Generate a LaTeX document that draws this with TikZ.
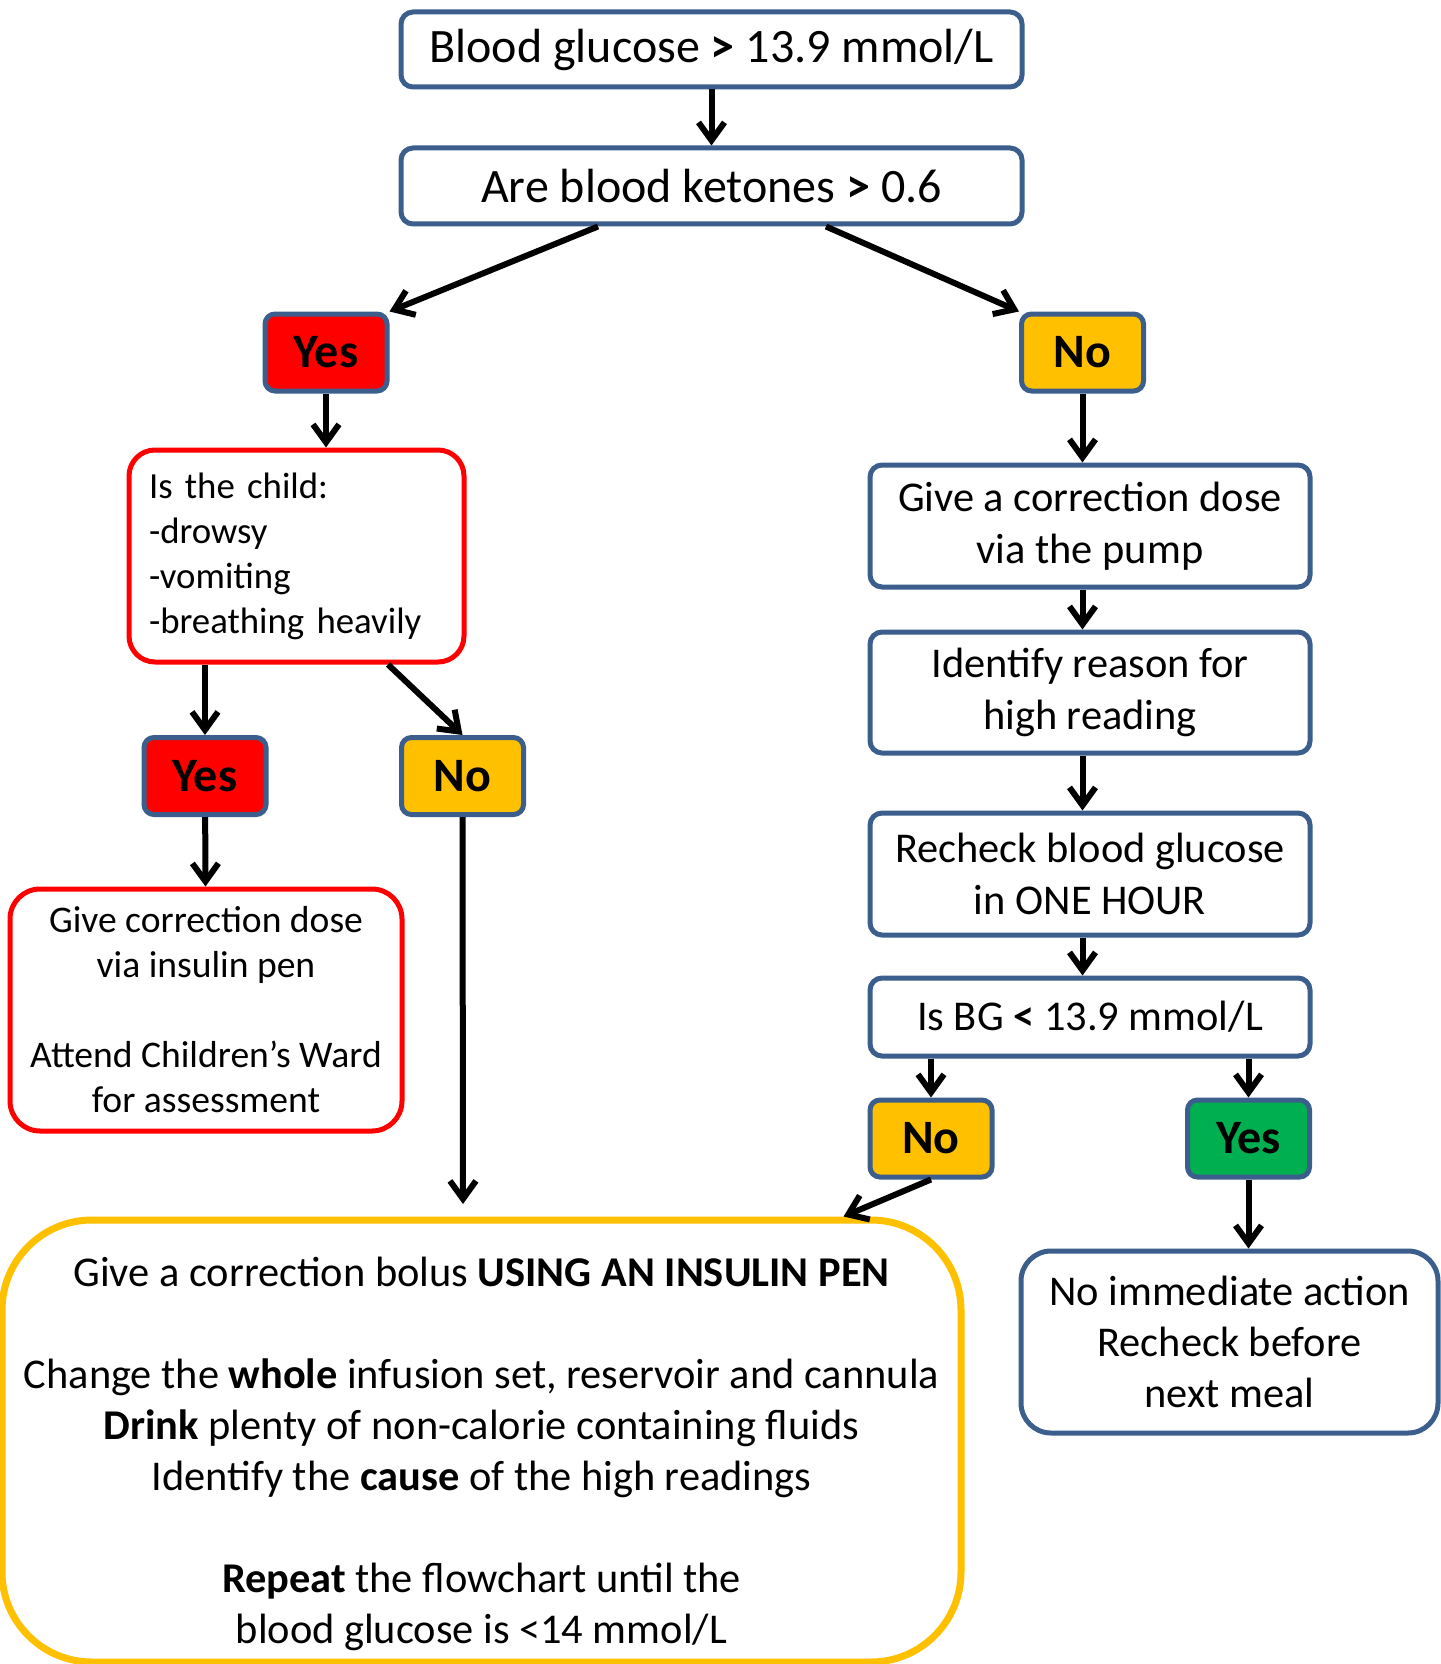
\documentclass[tikz,border=0pt]{standalone}
\usepackage{fontspec}
\setmainfont{Carlito}
\usetikzlibrary{positioning,calc,arrows.meta}
\definecolor{boxblue}{HTML}{3B5E8C}
\definecolor{alertred}{HTML}{FF0000}
\definecolor{amber}{HTML}{FFC000}
\definecolor{okgreen}{HTML}{00B050}
\tikzstyle{block} = [rectangle, draw=boxblue, line width=2.5pt, fill=white, rounded corners=6pt, align=center, inner sep=0pt, minimum width=220pt, font=\fontsize{21.2}{26}\selectfont]
\tikzstyle{answer} = [rectangle, draw=boxblue, line width=2.5pt, rounded corners=5pt, inner sep=0pt, minimum width=61pt, minimum height=38.5pt, font=\fontsize{24}{28}\selectfont\bfseries]
\tikzstyle{redblock} = [rectangle, draw=alertred, line width=2.5pt, fill=white, rounded corners=13pt, inner sep=0pt]
\tikzstyle{line} = [draw, -{Straight Barb[length=9pt,width=13pt]}, line width=3pt]

\begin{document}
\begin{tikzpicture}[x=0.5pt, y=-0.5pt]
    \useasboundingbox (0,0) rectangle (1440,1664);

    \node[block, minimum width=310.5pt, minimum height=37.5pt, font=\fontsize{24}{28}\selectfont] at (711.5,49.5) (gluc) {Blood glucose \textbf{>} 13.9 mmol/L};
    \node[block, minimum width=310.5pt, minimum height=38pt, font=\fontsize{24}{28}\selectfont] at (711.5,186) (ket) {Are blood ketones \textbf{>} 0.6};

    % ketones present
    \node[answer, fill=alertred] at (326,352.5) (yesA) {Yes};
    \node[redblock, text width=147.5pt, inner xsep=10pt, minimum height=106pt, align=left, font=\fontsize{18.4}{22.5}\selectfont] at (296.5,556) (child) {Is the child:\\-drowsy\\-vomiting\\-breathing heavily};
    \node[answer, fill=alertred] at (205,776) (yesB) {Yes};
    \node[answer, fill=amber] at (462.5,776) (noB) {No};
    \node[redblock, minimum width=196pt, minimum height=121pt, rounded corners=15pt, align=center, font=\fontsize{18.8}{22.5}\selectfont] at (206,1010) (pen) {Give correction dose\\via insulin pen\\[22.5pt]Attend Children’s Ward\\for assessment};

    % no ketones
    \node[answer, fill=amber] at (1082.5,352.5) (noA) {No};
    \node[block, minimum height=61pt] at (1090,526) (pump) {Give a correction dose\\via the pump};
    \node[block, minimum height=60.5pt] at (1090,692.5) (reason) {Identify reason for\\high reading};
    \node[block, minimum height=61pt] at (1090,874) (recheck) {Recheck blood glucose\\in ONE HOUR};
    \node[block, minimum height=39pt] at (1090,1017) (isbg) {Is BG \textbf{<} 13.9 mmol/L};
    \node[answer, fill=amber] at (931,1138.5) (noC) {No};
    \node[answer, fill=okgreen] at (1248.5,1138.5) (yesC) {Yes};
    \node[block, minimum width=208.5pt, minimum height=91pt, rounded corners=15pt, font=\fontsize{21.2}{25.5}\selectfont] at (1229.5,1342) (noaction) {No immediate action\\Recheck before\\next meal};

    \node[rectangle, draw=amber, line width=3.5pt, fill=white, rounded corners=45pt, minimum width=479.5pt, minimum height=221pt, inner sep=0pt] at (481.5,1441) (bolus) {};
    \node[align=center, font=\fontsize{21.2}{25.5}\selectfont] at ($(bolus.center)+(0,13)$) (bolustext) {Give a correction bolus \textbf{USING AN INSULIN PEN}\\[25.5pt]Change the \textbf{whole} infusion set, reservoir and cannula\\\textbf{Drink} plenty of non-calorie containing fluids\\Identify the \textbf{cause} of the high readings\\[25.5pt]\textbf{Repeat} the flowchart until the\\blood glucose is <14 mmol/L};
    \coordinate (nobend) at (463,1204);

    \draw[line] (gluc) -- (ket);
    \draw[line] ([xshift=-56.75pt]ket.south) -- (yesA.north east);
    \draw[line] ([xshift=57.25pt]ket.south) -- (noA.north west);

    \draw[line] (yesA.south) -- (yesA.south |- child.north);
    \draw[line] (yesB.north |- child.south) -- (yesB.north);
    \draw[line] ([xshift=45.75pt]child.south) -- (noB.north);
    \draw[line] (yesB) -- (pen);
    \draw[line] (noB.south) -- (nobend);

    \draw[line] (noA.south) -- (noA.south |- pump.north);
    \draw[line] (noA.south |- pump.south) -- (noA.south |- reason.north);
    \draw[line] (noA.south |- reason.south) -- (noA.south |- recheck.north);
    \draw[line] (noA.south |- recheck.south) -- (noA.south |- isbg.north);
    \draw[line] (noC.north |- isbg.south) -- (noC.north);
    \draw[line] (yesC.north |- isbg.south) -- (yesC.north);
    \draw[line] (noC.south) -- ([xshift=181pt]bolus.north);
    \draw[line] (yesC.south) -- (yesC.south |- noaction.north);
\end{tikzpicture}
\end{document}
